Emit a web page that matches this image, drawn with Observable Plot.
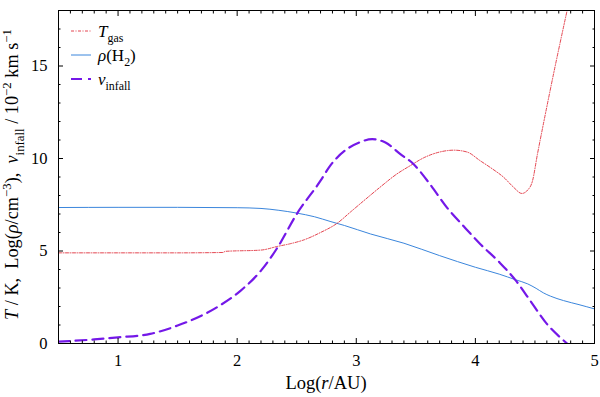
<!DOCTYPE html>
<html><head><meta charset="utf-8">
<script src="https://cdn.jsdelivr.net/npm/d3@7"></script>
<script src="https://cdn.jsdelivr.net/npm/@observablehq/plot@0.6"></script>
<style>body{margin:0;background:#fff} svg text{font-family:"Liberation Serif","DejaVu Serif",serif}</style>
</head><body><div id="chart"></div>
<script>
// T_gas
const tgasX = [0.5, 1.0, 1.5, 1.88, 1.9, 2.2, 2.34, 2.45, 2.56, 2.7, 2.84, 2.95, 3.06, 3.2, 3.34, 3.45, 3.57, 3.7, 3.82, 3.93, 4.04, 4.14, 4.24, 4.32, 4.39, 4.44, 4.48, 4.52, 4.575, 4.67, 4.77];
const tgasY = [4.9, 4.9, 4.9, 4.92, 4.98, 5.05, 5.25, 5.4, 5.6, 6.0, 6.5, 7.1, 7.7, 8.45, 9.16, 9.6, 10.05, 10.35, 10.45, 10.35, 9.88, 9.45, 8.97, 8.45, 8.11, 8.3, 8.8, 10.2, 12.0, 15.0, 18.0];
// rho(H2)
const rhoX = [0.5, 1.0, 1.5, 2.0, 2.2, 2.35, 2.5, 2.65, 2.78, 2.9, 3.12, 3.4, 3.7, 4.0, 4.2, 4.34, 4.44, 4.51, 4.57, 4.63, 4.74, 4.87, 5.0];
const rhoY = [7.35, 7.36, 7.36, 7.34, 7.3, 7.2, 7.05, 6.85, 6.6, 6.38, 5.92, 5.42, 4.75, 4.12, 3.75, 3.44, 3.22, 2.98, 2.74, 2.56, 2.32, 2.1, 1.87];
// v_infall
const vX = [0.5, 0.8, 1.0, 1.27, 1.5, 1.83, 2.03, 2.2, 2.34, 2.5, 2.7, 2.78, 2.92, 3.02, 3.134, 3.245, 3.37, 3.48, 3.62, 3.76, 3.9, 4.04, 4.2, 4.34, 4.46, 4.6, 4.7, 4.77];
const vY = [0.1, 0.22, 0.33, 0.52, 0.97, 1.96, 2.86, 3.94, 5.2, 7.0, 8.8, 9.6, 10.5, 10.85, 11.05, 10.86, 10.24, 9.7, 8.6, 7.36, 6.35, 5.38, 4.4, 3.4, 2.32, 1.06, 0.4, 0.0];

const xMajor = [1, 2, 3, 4, 5];
const yMajor = [0, 5, 10, 15];
const xMinor = d3.range(5, 51).map(i => i / 10).filter(v => !xMajor.includes(v));
const yMinor = d3.range(0, 19).filter(v => !yMajor.includes(v));

const toRows = (xs, ys) => xs.map((x, i) => ({x, y: ys[i]}));
const red = "#e0303c", blue = "#3b86dc", purple = "#7418e8";
const font = '"Liberation Serif", "DejaVu Serif", serif';
const fmt = d => String(d);
const none = () => "";

const plot = Plot.plot({
  width: 600, height: 397,
  marginLeft: 58, marginRight: 6, marginTop: 10, marginBottom: 54,
  style: {fontFamily: font, fontSize: "16px", background: "white", color: "black"},
  x: {domain: [0.5, 5]},
  y: {domain: [0, 18]},
  marks: [
    Plot.line(toRows(rhoX, rhoY), {x: "x", y: "y", stroke: blue, strokeWidth: 1, curve: "monotone-x"}),
    Plot.line(toRows(tgasX, tgasY), {x: "x", y: "y", stroke: red, strokeWidth: 0.9, strokeDasharray: "3,1.5,1,1.5", curve: "monotone-x", clip: true}),
    Plot.line(toRows(vX, vY), {x: "x", y: "y", stroke: purple, strokeWidth: 2.2, strokeDasharray: "11,6", curve: "monotone-x", clip: true}),
    Plot.axisX(xMajor, {anchor: "bottom", tickSize: -5, tickPadding: 16, tickFormat: fmt, label: null, fontSize: 16.5, fontFamily: font}),
    Plot.axisX(xMinor, {anchor: "bottom", tickSize: -2.5, tickFormat: none, label: null}),
    Plot.axisX(xMajor, {anchor: "top", tickSize: -5, tickFormat: none, label: null}),
    Plot.axisX(xMinor, {anchor: "top", tickSize: -2.5, tickFormat: none, label: null}),
    Plot.axisY(yMajor, {anchor: "left", tickSize: -5, tickPadding: 16, tickFormat: fmt, label: null, fontSize: 16.5, fontFamily: font}),
    Plot.axisY(yMinor, {anchor: "left", tickSize: -2.5, tickFormat: none, label: null}),
    Plot.axisY(yMajor, {anchor: "right", tickSize: -5, tickFormat: none, label: null}),
    Plot.axisY(yMinor, {anchor: "right", tickSize: -2.5, tickFormat: none, label: null}),
    Plot.frame({stroke: "black", strokeWidth: 1})
  ]
});
document.getElementById("chart").appendChild(plot);

const svg = d3.select(plot);
const xs = plot.scale("x"), ys = plot.scale("y");
const cx = (xs.range[0] + xs.range[1]) / 2;
const cy = (ys.range[0] + ys.range[1]) / 2;

function addRuns(textSel, runs, baseSize) {
  let shift = 0;
  for (const r of runs) {
    const t = textSel.append("tspan").text(r.t);
    const target = r.sub ? 0.3 * baseSize : r.sup ? -0.4 * baseSize : 0;
    if (target !== shift) { t.attr("dy", target - shift); shift = target; }
    if (r.i) t.attr("font-style", "italic");
    if (r.sub || r.sup) t.attr("font-size", baseSize * 0.7);
  }
}

// x-axis label
const xl = svg.append("text").attr("x", cx).attr("y", 389).attr("text-anchor", "middle")
  .attr("font-family", font).attr("font-size", 18.5).attr("fill", "black");
addRuns(xl, [{t: "Log("}, {t: "r", i: true}, {t: "/AU)"}], 18.5);

// y-axis label
const yl = svg.append("text").attr("transform", `translate(18,${cy - 2}) rotate(-90)`)
  .attr("text-anchor", "middle").attr("font-family", font).attr("font-size", 18.3).attr("fill", "black")
  .attr("xml:space", "preserve").style("white-space", "pre");
addRuns(yl, [
  {t: "T", i: true}, {t: " / K,  Log("}, {t: "ρ", i: true}, {t: "/cm"}, {t: "−3", sup: true},
  {t: "),  "}, {t: "v", i: true}, {t: "infall", sub: true}, {t: " / 10"}, {t: "−2", sup: true},
  {t: " km s"}, {t: "−1", sup: true}
], 18.3);

// legend
const legend = [
  {runs: [{t: "T", i: true}, {t: "gas", sub: true}], stroke: red, w: 0.9, dash: "3,1.5,1,1.5"},
  {runs: [{t: "ρ", i: true}, {t: "(H"}, {t: "2", sub: true}, {t: ")"}], stroke: blue, w: 1, dash: null},
  {runs: [{t: "v", i: true}, {t: "infall", sub: true}], stroke: purple, w: 2.2, dash: "11,6"}
];
const lx0 = xs.range[0] + 13, lx1 = lx0 + 20, ly0 = ys.range[1] + 21, lstep = 24;
legend.forEach((d, i) => {
  const y = ly0 + i * lstep;
  const ln = svg.append("line").attr("x1", lx0).attr("x2", lx1).attr("y1", y).attr("y2", y)
    .attr("stroke", d.stroke).attr("stroke-width", d.w);
  if (d.dash) ln.attr("stroke-dasharray", d.dash);
  const t = svg.append("text").attr("x", lx1 + 7).attr("y", y + 5.5).attr("text-anchor", "start")
    .attr("font-family", font).attr("font-size", 17).attr("fill", "black");
  addRuns(t, d.runs, 17);
});
</script></body></html>
